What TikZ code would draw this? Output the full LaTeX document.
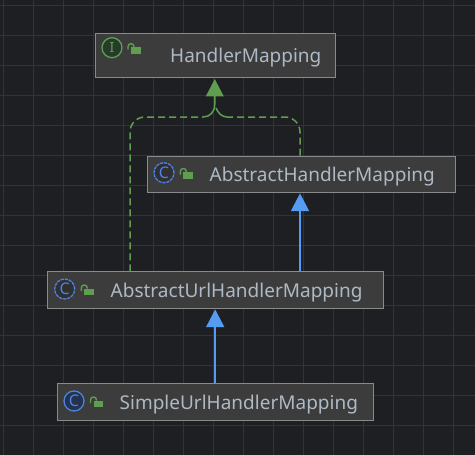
\documentclass[tikz,border=0pt]{standalone}
\usepackage{fontspec}
\setmainfont{Noto Sans}
\usetikzlibrary{arrows.meta}
\definecolor{bgc}{HTML}{1E1F22}
\definecolor{gridc}{HTML}{323336}
\definecolor{boxf}{HTML}{3C3C3C}
\definecolor{boxd}{HTML}{8A8A8A}
\definecolor{txt}{HTML}{AEB9C6}
\definecolor{grn}{HTML}{5F9E4F}
\definecolor{blu}{HTML}{559BF2}
\definecolor{iblu}{HTML}{4C82E0}
\definecolor{iblf}{HTML}{25324D}
\definecolor{igrf}{HTML}{253C2B}
\tikzset{
  x=1pt,y=-1pt,
  classbox/.style={draw=boxd,fill=boxf,line width=1.1pt,inner sep=0pt,anchor=north west},
  label text/.style={text=txt,font=\fontsize{19}{21}\selectfont,inner sep=0pt,anchor=base west},
  iconI/.style={circle,draw=grn,fill=igrf,line width=1.3pt,minimum size=20pt,inner sep=0pt,text=grn,font=\fontsize{14}{15}\selectfont},
  iconC/.style={circle,draw=iblu,fill=iblf,line width=1.3pt,minimum size=20pt,inner sep=0pt,text=iblu,font=\fontsize{16}{17}\selectfont},
  iconCa/.style={iconC,dash pattern=on 3.2pt off 0.9pt,fill=bgc!40!boxf},
  realize/.style={draw=grn,line width=1.5pt,dash pattern=on 7pt off 4pt},
  stem/.style={draw=grn,line width=1.5pt},
  inherit/.style={draw=blu,line width=1.5pt},
  tipped/.style={-{Triangle[length=17.7pt,width=18pt]}},
  pics/openlock/.style={code={
    \fill[grn] (0,-6.5) rectangle (9.7,0);
    \draw[grn,line width=1.4pt] (-3,-4) -- (-3,-7) .. controls (-3,-11) and (3,-11) .. (3,-7) -- (3,-6.5);
  }}
}
\begin{document}
\begin{tikzpicture}
\useasboundingbox (0,0) rectangle (475,455);
\fill[bgc] (0,0) rectangle (475,455);
\foreach \i in {3,33,...,473} \draw[gridc,line width=0.9pt] (\i,0) -- (\i,455);
\foreach \j in {5,35,...,455} \draw[gridc,line width=0.9pt] (0,\j) -- (475,\j);

\node[classbox,minimum width=240.7pt,minimum height=44.4pt] (hm) at (94.5,32.8) {};
\node[classbox,minimum width=308.5pt,minimum height=36.6pt] (ahm) at (146.7,155.7) {};
\node[classbox,minimum width=336pt,minimum height=37pt] (auhm) at (47.3,271.3) {};
\node[classbox,minimum width=316.5pt,minimum height=37pt] (suhm) at (56.7,383.3) {};

\node[iconI] (hmi) at (112,47.7) {I};
\node[iconCa] (ahmi) at (164,172.7) {C};
\node[iconCa] (auhmi) at (64.7,289) {C};
\node[iconC] (suhmi) at (74,401) {C};

\pic at (131,53.7) {openlock};
\pic at (183.3,178.5) {openlock};
\pic at (84.3,295) {openlock};
\pic at (93.5,407) {openlock};

\node[label text] (hmt) at (170,62.5) {HandlerMapping};
\node[label text] (ahmt) at (209.5,181) {AbstractHandlerMapping};
\node[label text] (auhmt) at (110.5,297) {AbstractUrlHandlerMapping};
\node[label text] (suhmt) at (119.5,409) {SimpleUrlHandlerMapping};

\coordinate (lx) at (130,0);
\coordinate (rx) at (300,0);
\coordinate (hx) at (214.8,0);
\coordinate (ax) at (300,0);
\coordinate (ux) at (215.2,0);
\coordinate (lc) at (130,117);
\coordinate (rc) at (300,117);
\coordinate (jt) at (214.8,95);
\coordinate (jm) at (214.8,104);
\coordinate (jl) at (203,117);
\coordinate (jr) at (227,117);

\draw[stem] (jt) -- (jm) .. controls (214.8,112) and (210,117) .. (jl);
\draw[stem] (216,108) .. controls (218,113) and (222,117) .. (jr);
\draw[realize,rounded corners=15pt] (lx |- auhm.north) -- (lc) -- (jl);
\draw[realize,rounded corners=15pt] (rx |- ahm.north) -- (rc) -- (jr);
\fill[grn] (hm.south -| hx) ++(0,0.8) -- ++(9,17.2) -- ++(-18,0) -- cycle;

\draw[inherit,tipped] (ax |- auhm.north) -- (ax |- ahm.south);
\draw[inherit,tipped] (ux |- suhm.north) -- (ux |- auhm.south);
\end{tikzpicture}
\end{document}
